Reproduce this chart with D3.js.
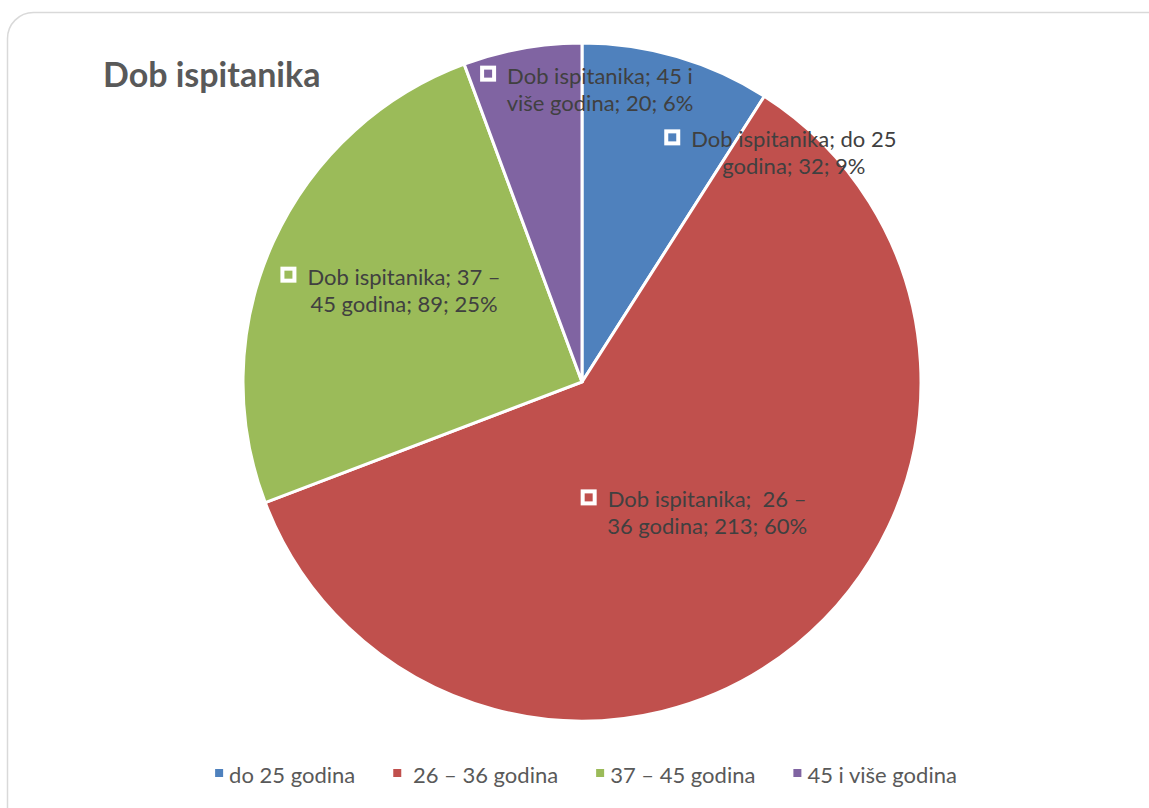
<!DOCTYPE html>
<html>
<head>
<meta charset="utf-8">
<script src="https://cdn.jsdelivr.net/npm/d3@7"></script>
<style>
  body { margin: 0; background: #fff; }
  text { font-family: Lato, "Open Sans", sans-serif; }
</style>
</head>
<body>
<div id="chart"></div>
<script>
var seriesName = "Dob ispitanika";
var categories = ["do 25 godina", " 26 – 36 godina", "37 – 45 godina", "45 i više godina"];
var values = [32, 213, 89, 20];
var percents = ["9%", "60%", "25%", "6%"];
var colors = ["#4F81BD", "#C0504D", "#9BBB59", "#8064A2"];

// label placement (fraction of radius from centre) and words on first line
var labelPos = [[0.625, -0.67], [0.369, 0.392], [-0.525, -0.265], [0.053, -0.858]];
var breakAt = [4, 5, 4, 4];

var width = 1149,
    height = 808,
    cx = 582, cy = 382,
    radius = 339;

var svg = d3.select("#chart").append("svg")
    .attr("width", width)
    .attr("height", height);

// chart area frame
svg.append("rect")
    .attr("x", 7.5).attr("y", 12.5)
    .attr("width", 1180).attr("height", 840)
    .attr("rx", 26).attr("ry", 26)
    .style("fill", "#fff")
    .style("stroke", "#d9d9d9")
    .style("stroke-width", 1.5);

svg.append("text")
    .attr("x", 103).attr("y", 87)
    .style("font-size", "34px")
    .style("font-weight", "bold")
    .style("fill", "#595959")
    .text(seriesName);

var pie = d3.pie().sort(null).value(function(d) { return d; });
var arc = d3.arc().innerRadius(0).outerRadius(radius);
var arcs = pie(values);

var g = svg.append("g").attr("transform", "translate(" + cx + "," + cy + ")");

g.selectAll(".slice")
  .data(arcs)
  .enter().append("path")
    .attr("class", "slice")
    .attr("d", arc)
    .style("fill", function(d, i) { return colors[i]; })
    .style("stroke", "#fff")
    .style("stroke-width", 3);

// data labels
var lineH = 27;
arcs.forEach(function(d, i) {
  var words = (seriesName + "; " + categories[i] + "; " + values[i] + "; " + percents[i]).split(" ");
  var lines = [words.slice(0, breakAt[i]).join(" "), words.slice(breakAt[i]).join(" ")];
  var lx = labelPos[i][0] * radius, ly = labelPos[i][1] * radius;
  var lg = g.append("g").attr("transform", "translate(" + lx + "," + ly + ")");
  var t = lg.append("text")
      .style("font-size", "22px")
      .style("fill", "#404040")
      .style("text-anchor", "middle")
      .attr("xml:space", "preserve");
  lines.forEach(function(l, j) {
    t.append("tspan")
      .attr("x", 0)
      .attr("y", (j - 0.5) * lineH + 6)
      .text(l);
  });
  var w = t.select("tspan").node().getComputedTextLength();
  lg.append("rect")
    .attr("x", -w / 2 - 25).attr("y", -lineH / 2 - 10)
    .attr("width", 12).attr("height", 12)
    .style("fill", colors[i])
    .style("stroke", "#fff")
    .style("stroke-width", 4);
});

// legend
var legend = svg.append("g").attr("transform", "translate(0,776)");
var items = legend.selectAll(".item")
  .data(categories)
  .enter().append("g")
    .attr("class", "item");
items.append("rect")
    .attr("y", -7).attr("width", 8).attr("height", 8)
    .style("fill", function(d, i) { return colors[i]; });
items.append("text")
    .attr("x", 14).attr("y", 7)
    .attr("xml:space", "preserve")
    .style("font-size", "22px")
    .style("fill", "#595959")
    .text(function(d) { return d; });
var xpos = 0, gap = 38, offsets = [];
items.each(function() {
  offsets.push(xpos);
  xpos += this.getBBox().width + gap;
});
var startX = 586 - (xpos - gap) / 2;
items.attr("transform", function(d, i) { return "translate(" + (startX + offsets[i]) + ",0)"; });
</script>
</body>
</html>
